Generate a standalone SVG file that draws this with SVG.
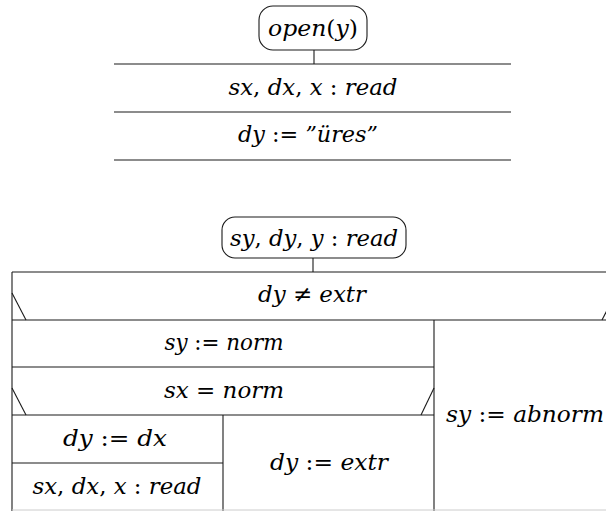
<svg xmlns="http://www.w3.org/2000/svg" width="606" height="511" viewBox="0 0 606 511">
<style>
.ln{stroke:#1a1a1a;stroke-width:1.1;fill:none}
.rr{stroke:#1a1a1a;stroke-width:1.1;fill:#fff}
.t{font-family:"DejaVu Serif","Liberation Serif",serif;font-style:italic;font-size:23px;fill:#000;text-anchor:middle}
.u{font-style:normal}
</style>
<rect width="606" height="511" fill="#fff"/>
<g id="connectors">
<line class="ln" x1="314" y1="50" x2="314" y2="64"/>
<line class="ln" x1="313" y1="258" x2="313" y2="272"/>
</g>
<g id="start1">
<rect class="rr" x="259" y="6" width="108" height="44" rx="14"/>
<text class="t" x="313" y="36" textLength="90" lengthAdjust="spacingAndGlyphs">open<tspan class="u">(</tspan>y<tspan class="u">)</tspan></text>
</g>
<g id="seq1">
<line class="ln" x1="114" y1="64" x2="511" y2="64"/>
<line class="ln" x1="114" y1="112" x2="511" y2="112"/>
<line class="ln" x1="114" y1="160" x2="511" y2="160"/>
<text class="t" x="313" y="95" textLength="169" lengthAdjust="spacingAndGlyphs">sx<tspan class="u">, </tspan>dx<tspan class="u">, </tspan>x <tspan class="u">: </tspan>read</text>
<text class="t" x="308" y="142" textLength="140" lengthAdjust="spacingAndGlyphs">dy <tspan class="u">:=</tspan> ”üres”</text>
</g>
<g id="start2">
<rect class="rr" x="222" y="217" width="184" height="41" rx="13"/>
<text class="t" x="314" y="246" textLength="168" lengthAdjust="spacingAndGlyphs">sy<tspan class="u">, </tspan>dy<tspan class="u">, </tspan>y <tspan class="u">: </tspan>read</text>
</g>
<g id="cond1">
<line class="ln" x1="12" y1="272" x2="620" y2="272"/>
<line class="ln" x1="12" y1="272" x2="12" y2="512"/>
<line class="ln" x1="12" y1="320" x2="620" y2="320"/>
<line class="ln" x1="12" y1="293" x2="26" y2="320"/>
<line class="ln" x1="616" y1="293" x2="602" y2="320"/>
<text class="t" x="312" y="302" textLength="108" lengthAdjust="spacingAndGlyphs">dy <tspan class="u">≠ </tspan>extr</text>
</g>
<g id="seq2">
<line class="ln" x1="434" y1="320" x2="434" y2="512"/>
<line class="ln" x1="12" y1="367" x2="434" y2="367"/>
<text class="t" x="224" y="350" textLength="119" lengthAdjust="spacingAndGlyphs">sy <tspan class="u">:= </tspan>norm</text>
</g>
<g id="cond2">
<line class="ln" x1="12" y1="415" x2="434" y2="415"/>
<line class="ln" x1="12" y1="388" x2="26" y2="415"/>
<line class="ln" x1="434" y1="388" x2="421" y2="415"/>
<text class="t" x="224" y="398" textLength="120" lengthAdjust="spacingAndGlyphs">sx <tspan class="u">= </tspan>norm</text>
</g>
<g id="branch">
<line class="ln" x1="223" y1="415" x2="223" y2="512"/>
<line class="ln" x1="12" y1="463" x2="223" y2="463"/>
<line x1="12" y1="510" x2="620" y2="510" stroke="#ccc" stroke-width="1"/>
<text class="t" x="115" y="446" textLength="104" lengthAdjust="spacingAndGlyphs">dy <tspan class="u">:= </tspan>dx</text>
<text class="t" x="117" y="494" textLength="169" lengthAdjust="spacingAndGlyphs">sx<tspan class="u">, </tspan>dx<tspan class="u">, </tspan>x <tspan class="u">: </tspan>read</text>
<text class="t" x="329" y="470" textLength="118" lengthAdjust="spacingAndGlyphs">dy <tspan class="u">:= </tspan>extr</text>
</g>
<g id="else">
<text class="t" x="525" y="422" textLength="158" lengthAdjust="spacingAndGlyphs">sy <tspan class="u">:= </tspan>abnorm</text>
</g>
</svg>
